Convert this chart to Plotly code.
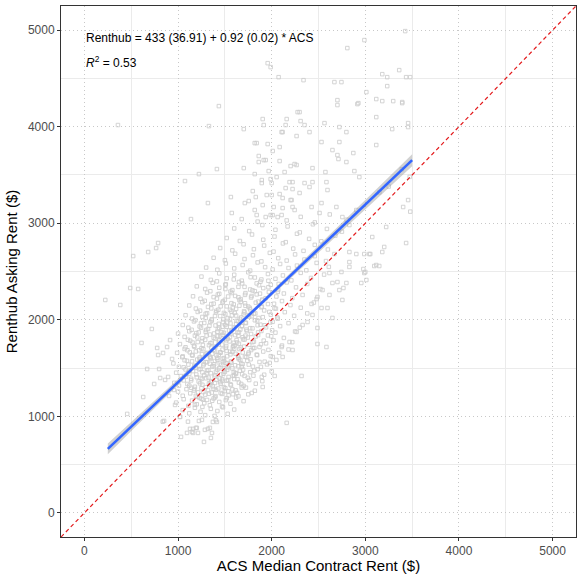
import plotly.graph_objects as go
import numpy as np

# ---- data ----
# regression estimates shown in the annotation
intercept = 433
slope = 0.92
fit_x_range = [250, 3500]
# approximate half-width of confidence band (Renthub $) at a few ACS values
band_x = [250, 1000, 1600, 2500, 3500]
band_half = [55, 28, 18, 32, 62]

left_tail = [(223,2205),(383,2153),(358,4017),(489,2329),(521,2660),(574,2319),(681,2702),(766,2743),
             (787,2795),(670,1490),(745,1335),(787,1635),(628,1200),(457,1025),(798,1490),(840,1656),
             (777,1708),(883,1718),(915,1790),(936,1594),(894,1408),(862,1377),(957,1273),(904,1211),
             (968,1118),(809,1397),(851,952),(1021,994),(720,1905),(610,1760)]

bottom_edge = [(837,945),(1106,945),(1128,870),(1160,870),(1096,828),(1160,828),(1213,828),(1191,880),
               (1287,860),(1319,870),(1340,880),(1032,787),(1277,735),(1351,776),(1372,942),(1415,942),
               (1223,952),(2160,932),(1149,839),(1362,828),(1404,960),(1255,963),(1200,880),(1021,994)]

upper_scatter = [(1436,4213),(1330,4006),(1415,3561),(1223,3509),(1074,3437),(1319,3209),(1138,3043),
                 (1564,3271),(1574,3106),(1904,4079),(1915,4017),(1702,3975),(2160,4079),(2149,4017),
                 (2106,3944),(2277,4151),(1819,3830),(1840,3830),(1957,3820),(2011,3748),(2085,3789),
                 (1862,3696),(1915,3654),(1862,3634),(2085,3644),(1702,3571),(1968,3540),(1819,3509),
                 (2053,3478),(2138,3530),(2202,3592),(2245,3613),(1894,3447),(1894,3416),(1989,3457),
                 (2223,3426),(2149,3364),(2223,3354),(1798,3333),(1947,3292),(2000,3292),(1830,3271),
                 (1755,3230),(1713,3209),(1904,3188),(1819,3137),(2021,3168),(2117,3157),(2202,3240),
                 (2223,3168),(2245,3137),(2106,3085),(2064,3064),(1989,3085),(1840,3085),(1936,3064),
                 (3426,4990),(2990,4897),(2808,4814),(1957,4658),(1989,4617),(2074,4513),(2340,4482),
                 (2670,4462),(2745,4462),(3181,4544),(3234,4513),(3362,4586),(3436,4513),(3479,4513),
                 (3234,4420),(3011,4358),(2702,4275),(2926,4244),(3117,4286),(3181,4265),(3298,4265),
                 (3394,4255),(2702,4224),(2915,4234),(3394,4244),(2298,4151),(2309,4058),(2351,4017),
                 (2564,4037),(2723,3996),(2798,3944),(3117,4099),(3287,3975),(3457,4037),(3457,3996),
                 (2117,3944),(2266,3903),(2404,3944),(2532,3841),(2723,3841),(3117,3810),(2649,3758),
                 (2872,3727),(2702,3706),(1936,3654),(2266,3603),(2436,3571),(2574,3530),(2798,3634),
                 (2713,3665),(2883,3540),(2936,3478),(2585,3426),(2596,3344),(2436,3426),(2351,3416),
                 (2404,3375),(2191,3426),(2000,3416),(2085,3302),(2117,3261),(2213,3240),(2298,3313),
                 (2532,3209),(2511,3106),(2426,3168),(2691,3168),(2904,3137),(2755,3064),(2830,2981),
                 (3074,2857),(3202,2754),(3043,2681),(3096,2557),(3149,2557),(3457,3240),(3404,3168),
                 (3223,2961),(3436,2795),(2989,2484),(3011,2412),(2798,2381),(2702,2391),(2617,2484),
                 (2830,2598),(3474,3480),(3480,3120),(3390,3560),(3250,3380),(3150,3320)]

lower_right = [(2670,2681),(2830,2702),(2904,2681),(2989,2681),(3053,2681),(3181,2702),(3117,2567),
               (2979,2526),(3000,2495),(2957,2381),(2830,2547),(2745,2495),(2649,2381),(2766,2329),
               (2723,2308),(2617,2257),(2543,2308),(2489,2236),(2426,2164),(2532,2122),(2596,2122),
               (2649,2019),(2489,1915),(2585,1718),(2489,1749),(2319,1418),(2011,1615),(2032,1418),
               (1904,1304),(1894,1408),(1787,1242),(2755,2205),(2436,2050),(2383,1977),(2330,1946),
               (2266,1874),(2191,1770),(2106,1718),(2223,1687),(2117,1615),(1979,1553)]

core = [(1050,1064),(1120,1031),(1180,1089),(1240,1047),(1290,1012),(1350,1078),(1420,1055),(1480,1093),
        (1530,1026),(1600,1070),(1390,1004),(1260,1098),
        (980,1142),(1060,1177),(1110,1108),(1150,1163),(1200,1125),(1230,1191),(1280,1136),(1310,1170),
        (1340,1115),(1380,1185),(1440,1149),(1470,1102),(1510,1168),(1560,1131),(1620,1194),(1700,1157),
        (1180,1119),(1250,1182),
        (1000,1256),(1050,1213),(1090,1281),(1130,1238),(1170,1267),(1210,1204),(1250,1292),(1290,1225),
        (1320,1273),(1360,1246),(1400,1209),(1430,1288),(1470,1232),(1500,1261),(1540,1217),(1580,1279),
        (1630,1243),(1680,1298),(1750,1228),(1820,1265),(1140,1296),(1270,1251),(1380,1284),
        (960,1347),(1010,1318),(1060,1372),(1100,1335),(1140,1389),(1180,1306),(1220,1361),(1260,1327),
        (1300,1394),(1330,1342),(1370,1311),(1410,1378),(1450,1354),(1490,1302),(1520,1369),(1560,1331),
        (1600,1386),(1650,1349),(1700,1315),(1760,1376),(1830,1338),(1900,1364),(1240,1398),(1350,1355),
        (1470,1383),
        (980,1452),(1030,1417),(1080,1486),(1120,1439),(1160,1468),(1200,1405),(1240,1491),(1280,1426),
        (1310,1474),(1350,1447),(1390,1412),(1420,1483),(1460,1433),(1500,1461),(1540,1408),(1580,1496),
        (1620,1442),(1660,1471),(1710,1419),(1770,1457),(1850,1488),(1920,1431),(2000,1466),(1260,1455),
        (1440,1498),(1600,1423),
        (950,1548),(1010,1513),(1070,1581),(1110,1536),(1150,1569),(1190,1502),(1230,1594),(1270,1527),
        (1310,1561),(1340,1544),(1380,1519),(1420,1588),(1460,1533),(1490,1572),(1530,1507),(1570,1556),
        (1610,1529),(1650,1591),(1690,1541),(1740,1576),(1800,1515),(1870,1563),(1950,1538),(2050,1584),
        (1350,1598),(1520,1551),(1680,1512),
        (990,1657),(1050,1621),(1100,1684),(1150,1636),(1190,1672),(1230,1609),(1270,1695),(1300,1648),
        (1340,1617),(1380,1689),(1410,1631),(1450,1664),(1490,1603),(1520,1677),(1560,1642),(1600,1699),
        (1640,1626),(1690,1661),(1730,1614),(1780,1686),(1840,1639),(1910,1671),(1990,1623),(2080,1658),
        (2180,1692),(1420,1606),(1580,1668),(1750,1645),
        (1020,1748),(1080,1715),(1130,1783),(1170,1731),(1210,1769),(1250,1704),(1290,1792),(1330,1737),
        (1360,1761),(1400,1722),(1440,1788),(1470,1743),(1510,1709),(1550,1776),(1590,1729),(1630,1765),
        (1670,1712),(1710,1795),(1760,1741),(1810,1774),(1870,1718),(1940,1756),(2020,1787),(2110,1733),
        (2220,1768),(1500,1799),(1650,1752),(1800,1706),
        (1000,1857),(1070,1823),(1120,1881),(1180,1836),(1220,1869),(1260,1808),(1300,1894),(1340,1847),
        (1380,1814),(1420,1876),(1450,1832),(1490,1865),(1530,1803),(1570,1889),(1610,1841),(1650,1872),
        (1690,1819),(1730,1898),(1780,1853),(1830,1827),(1890,1884),(1960,1838),(2040,1867),(2130,1812),
        (2250,1879),(1560,1851),(1720,1835),
        (1050,1946),(1110,1918),(1170,1983),(1230,1931),(1280,1967),(1320,1905),(1360,1992),(1400,1941),
        (1440,1915),(1480,1977),(1520,1928),(1560,1962),(1600,1909),(1640,1986),(1680,1937),(1720,1971),
        (1770,1913),(1820,1995),(1880,1949),(1940,1922),(2010,1979),(2090,1934),(2180,1965),(2300,1919),
        (1620,1957),(1850,1943),
        (1080,2047),(1150,2013),(1210,2081),(1260,2029),(1310,2068),(1360,2006),(1410,2093),(1450,2038),
        (1490,2071),(1530,2017),(1570,2085),(1620,2044),(1660,2009),(1710,2076),(1760,2032),(1810,2061),
        (1860,2019),(1920,2097),(1990,2053),(2060,2024),(2140,2079),(2240,2041),(2380,2066),(1700,2055),
        (1120,2148),(1190,2116),(1260,2182),(1320,2133),(1380,2167),(1430,2104),(1480,2191),(1520,2139),
        (1570,2172),(1620,2113),(1670,2186),(1720,2145),(1770,2108),(1830,2177),(1890,2129),(1960,2163),
        (2030,2119),(2110,2194),(2200,2152),(2310,2125),(2450,2178),(1750,2137),(1900,2199),
        (1160,2243),(1240,2218),(1310,2281),(1380,2235),(1440,2269),(1500,2207),(1560,2292),(1610,2247),
        (1670,2214),(1720,2276),(1780,2231),(1840,2263),(1900,2209),(1970,2288),(2050,2241),(2130,2272),
        (2220,2224),(2330,2257),(2480,2215),(1820,2296),
        (1200,2346),(1290,2319),(1370,2383),(1440,2332),(1510,2368),(1580,2307),(1650,2391),(1710,2341),
        (1770,2314),(1840,2377),(1910,2328),(1990,2362),(2070,2309),(2160,2387),(2260,2336),(2380,2371),
        (2520,2318),(1880,2395),
        (1250,2447),(1350,2413),(1440,2481),(1520,2429),(1600,2466),(1680,2405),(1750,2492),(1820,2438),
        (1890,2417),(1960,2474),(2040,2425),(2120,2459),(2210,2408),(2310,2486),(2420,2433),(2560,2468),
        (1300,2541),(1420,2518),(1510,2583),(1600,2532),(1690,2567),(1770,2509),(1850,2594),(1930,2545),
        (2010,2521),(2090,2578),(2180,2536),(2270,2561),(2370,2512),(2480,2589),(2610,2548),
        (1380,2642),(1500,2617),(1610,2684),(1710,2629),(1800,2668),(1890,2605),(1980,2693),(2070,2638),
        (2160,2613),(2250,2677),(2350,2624),(2460,2659),(2580,2608),
        (1450,2743),(1580,2719),(1700,2782),(1810,2731),(1920,2768),(2020,2706),(2120,2791),(2230,2737),
        (2340,2714),(2460,2776),(2600,2728),
        (1520,2847),(1660,2816),(1790,2883),(1910,2829),(2030,2862),(2150,2804),(2270,2891),(2400,2838),
        (2530,2813),(2680,2872),
        (1600,2946),(1760,2918),(1900,2981),(2040,2932),(2170,2967),(2300,2905),(2440,2989),(2590,2941),
        (2750,2913),
        (1680,3043),(1850,3017),(2010,3084),(2160,3029),(2310,3066),(2460,3008),(2620,3091),(2800,3037)]

dense_core = [(1190,1212),(1265,1174),(1330,1233),(1395,1196),(1455,1241),(1520,1188),(1585,1229),(1645,1207),
              (1215,1248),(1365,1161),
              (1120,1318),(1175,1283),(1235,1341),(1295,1302),(1345,1329),(1405,1274),(1455,1337),(1505,1291),
              (1565,1322),(1615,1269),(1675,1335),(1725,1297),(1395,1345),(1535,1259),
              (1085,1411),(1140,1372),(1195,1433),(1255,1388),(1305,1446),(1355,1364),(1395,1427),(1445,1393),
              (1485,1441),(1535,1376),(1585,1418),(1635,1385),(1685,1436),(1745,1399),(1805,1421),(1325,1402),
              (1475,1367),(1615,1448),
              (1060,1507),(1115,1472),(1175,1523),(1225,1486),(1275,1541),(1325,1479),(1365,1516),(1405,1463),
              (1445,1547),(1495,1495),(1545,1528),(1595,1458),(1645,1519),(1695,1484),(1755,1536),(1815,1473),
              (1885,1512),(1385,1539),(1525,1481),(1675,1545),
              (1045,1612),(1095,1575),(1155,1629),(1205,1588),(1255,1644),(1295,1561),(1345,1607),(1395,1573),
              (1435,1637),(1475,1596),(1525,1622),(1565,1569),(1615,1648),(1665,1583),(1715,1618),(1775,1591),
              (1845,1633),(1925,1566),(1365,1649),(1505,1554),(1645,1606),
              (1070,1698),(1125,1663),(1175,1721),(1225,1684),(1265,1739),(1315,1657),(1355,1712),(1395,1676),
              (1435,1744),(1475,1691),(1515,1728),(1555,1669),(1605,1735),(1655,1697),(1705,1722),(1755,1661),
              (1815,1709),(1885,1746),(1965,1688),(1455,1659),(1585,1716),
              (1105,1793),(1155,1764),(1205,1818),(1255,1779),(1305,1836),(1345,1758),(1395,1802),(1435,1771),
              (1475,1845),(1515,1787),(1555,1823),(1595,1762),(1645,1834),(1695,1797),(1745,1816),(1795,1768),
              (1855,1841),(1915,1784),(1995,1829),(1425,1832),(1625,1789),
              (1145,1896),(1195,1862),(1245,1917),(1295,1875),(1335,1938),(1385,1858),(1425,1904),(1465,1872),
              (1505,1946),(1545,1889),(1595,1921),(1635,1866),(1685,1934),(1735,1883),(1795,1911),(1855,1869),
              (1925,1943),(2005,1891),(1475,1928),(1665,1899),
              (1185,1996),(1245,1962),(1295,2018),(1345,1977),(1395,2039),(1435,1958),(1485,2004),(1525,1969),
              (1575,2045),(1625,1989),(1675,2024),(1725,1965),(1785,2036),(1845,1993),(1905,2027),(1985,1972),
              (2065,2011),(1555,2008),(1755,2049),
              (1235,2094),(1295,2062),(1355,2118),(1405,2077),(1455,2139),(1505,2058),(1555,2103),(1605,2071),
              (1655,2146),(1705,2089),(1765,2124),(1825,2066),(1895,2137),(1975,2082),(2045,2115),(1585,2128),
              (1285,2197),(1355,2163),(1415,2219),(1475,2178),(1535,2241),(1595,2159),(1655,2204),(1715,2171),
              (1785,2246),(1855,2188),(1935,2223),(2025,2166),(1645,2233),
              (1345,2296),(1425,2262),(1505,2318),(1575,2277),(1645,2341),(1715,2258),(1795,2304),(1875,2271),
              (1965,2337),(2065,2289),
              (1415,2398),(1505,2362),(1595,2418),(1685,2377),(1775,2441),(1865,2358),(1965,2404),(2075,2371)]

all_pts = left_tail + bottom_edge + upper_scatter + lower_right + core + dense_core
acs = [p[0] for p in all_pts]
renthub = [p[1] for p in all_pts]

fig = go.Figure()

fig.add_trace(go.Scatter(
    x=acs, y=renthub, mode="markers",
    marker=dict(symbol="square-open", size=3.5, color="rgba(205,205,205,0.85)",
                line=dict(width=1, color="rgba(205,205,205,0.85)")),
    hoverinfo="skip", showlegend=False))

# confidence band
bx = np.linspace(fit_x_range[0], fit_x_range[1], 60)
bh = np.interp(bx, band_x, band_half)
by = intercept + slope * bx
fig.add_trace(go.Scatter(
    x=np.concatenate([bx, bx[::-1]]), y=np.concatenate([by + bh, (by - bh)[::-1]]),
    fill="toself", fillcolor="rgba(153,153,153,0.45)", line=dict(width=0),
    mode="lines", hoverinfo="skip", showlegend=False))

# fitted line
fig.add_trace(go.Scatter(
    x=fit_x_range, y=[intercept + slope * v for v in fit_x_range], mode="lines",
    line=dict(color="#3366FF", width=2.6), hoverinfo="skip", showlegend=False))

# 45-degree reference line
fig.add_trace(go.Scatter(
    x=[-250, 5250], y=[-250, 5250], mode="lines",
    line=dict(color="#E31A1C", width=1.2, dash="4px,3px"), hoverinfo="skip", showlegend=False))

axis_common = dict(
    range=[-250, 5250], dtick=1000, tick0=0,
    showgrid=True, gridcolor="#c8c8c8", griddash="1px,3px", gridwidth=1,
    minor=dict(dtick=500, showgrid=True, gridcolor="#ebebeb", gridwidth=1, griddash="solid"),
    showline=True, linecolor="#333333", linewidth=1, mirror=True,
    ticks="outside", ticklen=3, tickcolor="#333333",
    tickfont=dict(family="Liberation Sans, Arial", size=12, color="#4d4d4d"),
    zeroline=False,
)

fig.update_layout(
    width=577, height=574,
    margin=dict(l=61, r=1, t=6, b=37),
    paper_bgcolor="white", plot_bgcolor="white",
    font=dict(family="Liberation Sans, Arial", color="black"),
    xaxis=dict(**axis_common, title=dict(text="ACS Median Contract Rent ($)",
                                         font=dict(size=15, color="black"), standoff=4)),
    yaxis=dict(**axis_common, title=dict(text="Renthub Asking Rent ($)",
                                         font=dict(size=15, color="black"), standoff=6)),
    annotations=[
        dict(x=0, y=4920, xref="x", yref="y", xanchor="left", yanchor="middle",
             text="Renthub = 433 (36.91) + 0.92 (0.02) * ACS", showarrow=False,
             font=dict(size=12, color="black")),
        dict(x=0, y=4670, xref="x", yref="y", xanchor="left", yanchor="middle",
             text="<i>R</i><sup>2</sup> = 0.53", showarrow=False,
             font=dict(size=12, color="black")),
    ],
)

fig.write_html("out.html")
